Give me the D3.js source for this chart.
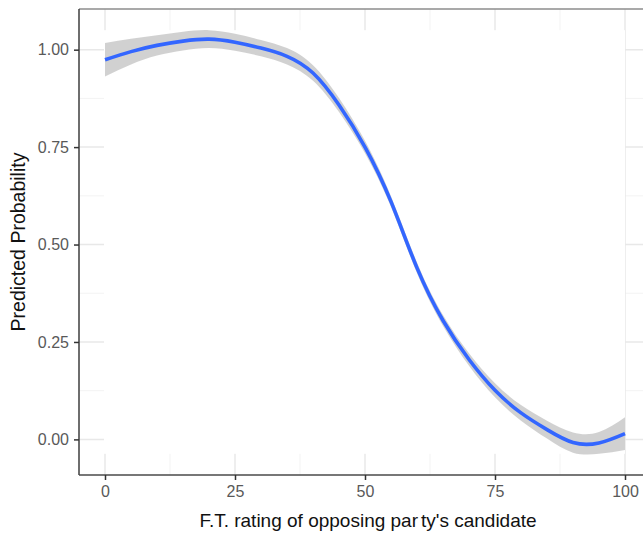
<!DOCTYPE html>
<html>
<head>
<meta charset="utf-8">
<script src="https://cdn.jsdelivr.net/npm/d3@7"></script>
<style>
  html, body { margin: 0; padding: 0; background: #fff; }
  svg { display: block; font-family: "Liberation Sans", Arial, Helvetica, sans-serif; }
</style>
</head>
<body>
<svg id="chart" width="643" height="533"></svg>
<script>
// Feeling-thermometer rating of the opposing party's candidate
const ratings = [0, 5, 10, 15, 20, 25, 30, 35, 40, 45, 50, 55, 60, 65, 70, 75, 80, 85, 90, 95, 100];
// Smoothed predicted probability
const fitted = [0.974, 0.995, 1.011, 1.022, 1.027, 1.019, 1.004, 0.983, 0.940, 0.858, 0.750,
                0.610, 0.440, 0.305, 0.205, 0.126, 0.068, 0.025, -0.008, -0.009, 0.015];
// Confidence band
const lowerBand = [0.931, 0.962, 0.985, 0.998, 1.004, 0.997, 0.983, 0.962, 0.920, 0.840, 0.734,
                   0.596, 0.426, 0.291, 0.189, 0.108, 0.048, 0.002, -0.034, -0.037, -0.027];
const upperBand = [1.017, 1.028, 1.037, 1.046, 1.050, 1.041, 1.025, 1.004, 0.960, 0.876, 0.766,
                   0.624, 0.454, 0.319, 0.221, 0.144, 0.088, 0.048, 0.018, 0.019, 0.057];
// Axis breaks
const xTicks = [0, 25, 50, 75, 100];
const xMinor = [12.5, 37.5, 62.5, 87.5];
const yTicks = [0, 0.25, 0.5, 0.75, 1];
const yMinor = [0.125, 0.375, 0.625, 0.875];

const xLabel = "F.T. rating of opposing party's candidate";
const yLabel = "Predicted Probability";

const svg = d3.select("#chart");
const panel = { left: 79, right: 651, top: 9, bottom: 475 };

// Scales padded 5% beyond the data range on each side
const xPad = 0.05 * (d3.max(ratings) - d3.min(ratings));
const x = d3.scaleLinear()
  .domain([d3.min(ratings) - xPad, d3.max(ratings) + xPad])
  .range([panel.left, panel.right]);
const yLo = d3.min(lowerBand), yHi = d3.max(upperBand);
const yPad = 0.05 * (yHi - yLo);
const y = d3.scaleLinear()
  .domain([yLo - yPad, yHi + yPad])
  .range([panel.bottom, panel.top]);

const rows = ratings.map((r, i) => ({ r, fit: fitted[i], lo: lowerBand[i], hi: upperBand[i] }));

// Grid lines
const grid = svg.append("g");
grid.selectAll("line.vminor").data(xMinor).join("line")
  .attr("x1", d => x(d)).attr("x2", d => x(d))
  .attr("y1", panel.top).attr("y2", panel.bottom)
  .attr("stroke", "#f3f3f3").attr("stroke-width", 1);
grid.selectAll("line.hminor").data(yMinor).join("line")
  .attr("y1", d => y(d)).attr("y2", d => y(d))
  .attr("x1", panel.left).attr("x2", panel.right)
  .attr("stroke", "#f3f3f3").attr("stroke-width", 1);
grid.selectAll("line.vmajor").data(xTicks).join("line")
  .attr("x1", d => x(d)).attr("x2", d => x(d))
  .attr("y1", panel.top).attr("y2", panel.bottom)
  .attr("stroke", "#e8e8e8").attr("stroke-width", 1.5);
grid.selectAll("line.hmajor").data(yTicks).join("line")
  .attr("y1", d => y(d)).attr("y2", d => y(d))
  .attr("x1", panel.left).attr("x2", panel.right)
  .attr("stroke", "#e8e8e8").attr("stroke-width", 1.5);

// Blank backdrop over the extent of the band
svg.append("rect")
  .attr("x", x(d3.min(ratings)) - 1)
  .attr("y", y(yHi))
  .attr("width", x(d3.max(ratings)) - x(d3.min(ratings)) + 1)
  .attr("height", y(yLo) - y(yHi))
  .attr("fill", "#ffffff");

// Confidence ribbon
const curve = d3.curveNatural;
svg.append("path")
  .datum(rows)
  .attr("d", d3.area().x(d => x(d.r)).y0(d => y(d.lo)).y1(d => y(d.hi)).curve(curve))
  .attr("fill", "#999999").attr("fill-opacity", 0.45);

// Fitted line
svg.append("path")
  .datum(rows)
  .attr("d", d3.line().x(d => x(d.r)).y(d => y(d.fit)).curve(curve))
  .attr("fill", "none").attr("stroke", "#3366FF").attr("stroke-width", 3.6)
  .attr("stroke-linejoin", "round").attr("stroke-linecap", "butt");

// Panel top border
svg.append("line")
  .attr("x1", panel.left).attr("x2", panel.right)
  .attr("y1", panel.top).attr("y2", panel.top)
  .attr("stroke", "#8c8c8c").attr("stroke-width", 1.5);

// Axes
const xAxis = svg.append("g")
  .attr("transform", `translate(0,${panel.bottom})`)
  .call(d3.axisBottom(x).tickValues(xTicks).tickSize(5).tickPadding(6).tickFormat(d3.format("d")));
const yAxis = svg.append("g")
  .attr("transform", `translate(${panel.left},0)`)
  .call(d3.axisLeft(y).tickValues(yTicks).tickSize(5).tickPadding(5).tickFormat(d3.format(".2f")));

[xAxis, yAxis].forEach(g => {
  g.select(".domain").attr("stroke", "#4a4a4a").attr("stroke-width", 1.6);
  g.selectAll(".tick line").attr("stroke", "#333").attr("stroke-width", 1.5);
  g.selectAll(".tick text").attr("fill", "#595959").attr("font-size", 16)
    .attr("font-family", "Liberation Sans, Arial, sans-serif");
});
// Axis lines span the full panel edges
xAxis.select(".domain").attr("d", `M${panel.left},0H${panel.right}`);
yAxis.select(".domain").attr("d", `M0,${panel.top}V${panel.bottom}`);

// Axis titles
const xt = svg.append("text")
  .attr("x", (panel.left + panel.right) / 2 + 3)
  .attr("y", 527)
  .attr("text-anchor", "middle")
  .attr("font-size", 19)
  .attr("fill", "#111");
const split = xLabel.indexOf("ty's");
xt.append("tspan").text(xLabel.slice(0, split));
xt.append("tspan").attr("dx", 3).text(xLabel.slice(split));

svg.append("text")
  .attr("transform", `translate(25,${(panel.top + panel.bottom) / 2}) rotate(-90)`)
  .attr("text-anchor", "middle")
  .attr("font-size", 19.5)
  .attr("fill", "#111")
  .text(yLabel);
</script>
</body>
</html>
